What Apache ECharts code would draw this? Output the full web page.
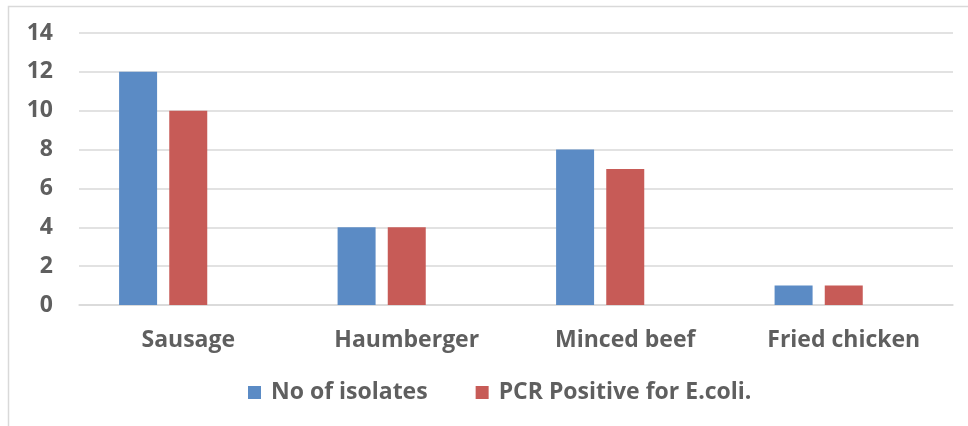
<!DOCTYPE html>
<html>
<head>
<meta charset="utf-8">
<script src="https://cdn.jsdelivr.net/npm/echarts@6/dist/echarts.min.js"></script>
<style>
html,body{margin:0;padding:0;background:#fff;}
#chart{width:968px;height:426px;}
</style>
</head>
<body>
<div id="chart"></div>
<script>
const categories = ['Sausage', 'Haumberger', 'Minced beef', 'Fried chicken'];
const isolates = [12, 4, 8, 1];
const pcrPositive = [10, 4, 7, 1];
const seriesNames = ['No of isolates', 'PCR Positive for E.coli.'];
const yTicks = [0, 2, 4, 6, 8, 10, 12, 14];

const font = 'Open Sans';
const textColor = '#5f5f5f';
const fs = 23;

const chart = echarts.init(document.getElementById('chart'));
chart.setOption({
  animation: false,
  backgroundColor: '#fff',
  graphic: [{
    type: 'rect',
    shape: { x: 8.5, y: 6.5, width: 1000, height: 500 },
    style: { fill: 'none', stroke: '#d9d9d9', lineWidth: 1.5 },
    silent: true, z: -1
  }],
  grid: { left: 79, right: 15, top: 33, bottom: 121, containLabel: false },
  legend: {
    data: seriesNames,
    top: 376,
    left: 243,
    itemWidth: 13,
    itemHeight: 13,
    itemGap: 48,
    icon: 'rect',
    textStyle: { fontFamily: font, fontSize: fs, fontWeight: 'bold', color: textColor, padding: [0, 0, 0, 5] }
  },
  xAxis: {
    type: 'category',
    data: categories,
    axisLine: { show: true, lineStyle: { color: '#d9d9d9', width: 1.5 } },
    axisTick: { show: false },
    axisLabel: { margin: 24, fontFamily: font, fontSize: fs, fontWeight: 'bold', color: textColor }
  },
  yAxis: {
    type: 'value',
    min: yTicks[0],
    max: yTicks[yTicks.length - 1],
    interval: 2,
    axisLine: { show: false },
    axisTick: { show: false },
    splitLine: { lineStyle: { color: '#d9d9d9', width: 1.5 } },
    axisLabel: { margin: 26, fontFamily: font, fontSize: fs, fontWeight: 'bold', color: textColor }
  },
  series: [
    { name: seriesNames[0], type: 'bar', data: isolates, barWidth: 38, barGap: '32%', itemStyle: { color: '#5b8bc5' } },
    { name: seriesNames[1], type: 'bar', data: pcrPositive, barWidth: 38, barGap: '32%', itemStyle: { color: '#c75b57' } },
    { name: 'spacer', type: 'bar', data: categories.map(() => null), barWidth: 38, barGap: '32%', itemStyle: { color: 'transparent' } }
  ]
});
</script>
</body>
</html>
